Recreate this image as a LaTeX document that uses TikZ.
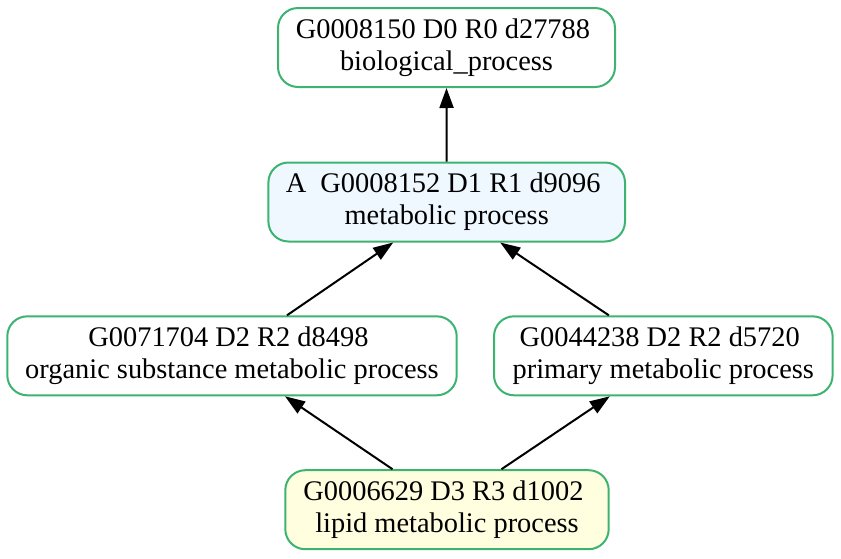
\documentclass[tikz,border=0pt]{standalone}
\usepackage{fontspec}
\setmainfont{Liberation Serif}
\usetikzlibrary{arrows.meta}

\definecolor{goline}{HTML}{3CB371}
\definecolor{gofillA}{HTML}{F0F8FF}
\definecolor{gofillY}{HTML}{FFFFE0}
\newcommand{\tsp}{\kern.25em}

\tikzset{
  goterm/.style={draw=goline, line width=1pt, rounded corners=10pt, fill=white,
                 align=center, inner sep=0pt, minimum height=39.5pt,
                 font=\fontsize{14.2}{16}\selectfont},
  isa/.style={-{Triangle[length=10pt,width=7pt]}, line width=1pt}
}

\begin{document}
\begin{tikzpicture}[x=0.5pt,y=-0.5pt]
\useasboundingbox (0,0) rectangle (841,558);

\node[goterm, minimum width=168.5pt] (bp) at (446.5,47.5)
      {G0008150 D0 R0 d27788\tsp\\biological\_process};
\node[goterm, fill=gofillA, minimum width=178.3pt] (met) at (446.7,202)
      {A~~G0008152 D1 R1 d9096\tsp\\metabolic process};
\node[goterm, minimum width=224.7pt] (orgsub) at (232,355.8)
      {G0071704 D2 R2 d8498\tsp\\organic substance metabolic process};
\node[goterm, minimum width=169.3pt] (prim) at (663.3,355.8)
      {G0044238 D2 R2 d5720\tsp\\primary metabolic process};
\node[goterm, fill=gofillY, minimum width=161.7pt] (lipid) at (447,509.7)
      {G0006629 D3 R3 d1002\tsp\\lipid metabolic process};

\draw[isa] (met.north) -- (bp.south);
\draw[isa] ([xshift=27.5pt]orgsub.north) -- ([xshift=-26.75pt]met.south);
\draw[isa] ([xshift=-27.25pt]prim.north) -- ([xshift=26.75pt]met.south);
\draw[isa] ([xshift=-27.25pt]lipid.north) -- ([xshift=26.5pt]orgsub.south);
\draw[isa] ([xshift=27.25pt]lipid.north) -- ([xshift=-26.75pt]prim.south);

\end{tikzpicture}
\end{document}
